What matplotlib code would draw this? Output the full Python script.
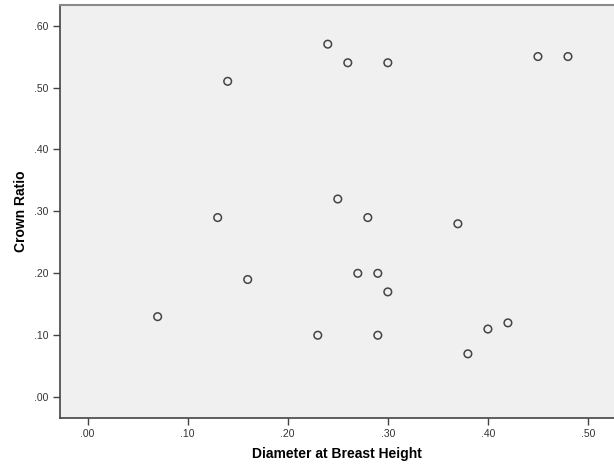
import matplotlib
matplotlib.use('Agg')
import matplotlib.pyplot as plt

# Diametro a altura do peito vs razao de copa
dbh = [0.07, 0.13, 0.14, 0.16, 0.23, 0.24, 0.25, 0.26, 0.27, 0.28,
       0.29, 0.29, 0.30, 0.30, 0.37, 0.38, 0.40, 0.42, 0.45, 0.48]
crown_ratio = [0.13, 0.29, 0.51, 0.19, 0.10, 0.57, 0.32, 0.54, 0.20, 0.29,
               0.20, 0.10, 0.17, 0.54, 0.28, 0.07, 0.11, 0.12, 0.55, 0.55]

x_ticks = [0.0, 0.1, 0.2, 0.3, 0.4, 0.5]
y_ticks = [0.0, 0.1, 0.2, 0.3, 0.4, 0.5, 0.6]

plt.rcParams['font.family'] = ['Liberation Sans', 'DejaVu Sans']

fig = plt.figure(figsize=(6.14, 4.68), dpi=100)
ax = fig.add_axes([0.097, 0.107, 0.903, 0.882])
ax.set_facecolor('#f0f0f0')

ax.scatter(dbh, crown_ratio, s=30, facecolors='none', edgecolors='#444444', linewidths=1.1)

ax.set_xlim(-0.028, 0.526)
ax.set_ylim(-0.0335, 0.633)
ax.set_xticks(x_ticks)
ax.set_yticks(y_ticks)
ax.set_xticklabels(['.%02d' % round(v * 100) for v in x_ticks])
ax.set_yticklabels(['.%02d' % round(v * 100) for v in y_ticks])
ax.tick_params(direction='out', length=5, width=1, color='#444444', labelsize=7.5, labelcolor='#333333', pad=3)

ax.spines['right'].set_visible(False)
ax.spines['top'].set_color('#8a8a8a')
ax.spines['top'].set_linewidth(1.5)
for s in ['left', 'bottom']:
    ax.spines[s].set_color('#444444')
    ax.spines[s].set_linewidth(1.2)

ax.set_xlabel('Diameter at Breast Height', fontsize=10, fontweight='bold', labelpad=6)
ax.set_ylabel('Crown Ratio', fontsize=10, fontweight='bold', labelpad=4)

fig.savefig('out.png', dpi=100)
